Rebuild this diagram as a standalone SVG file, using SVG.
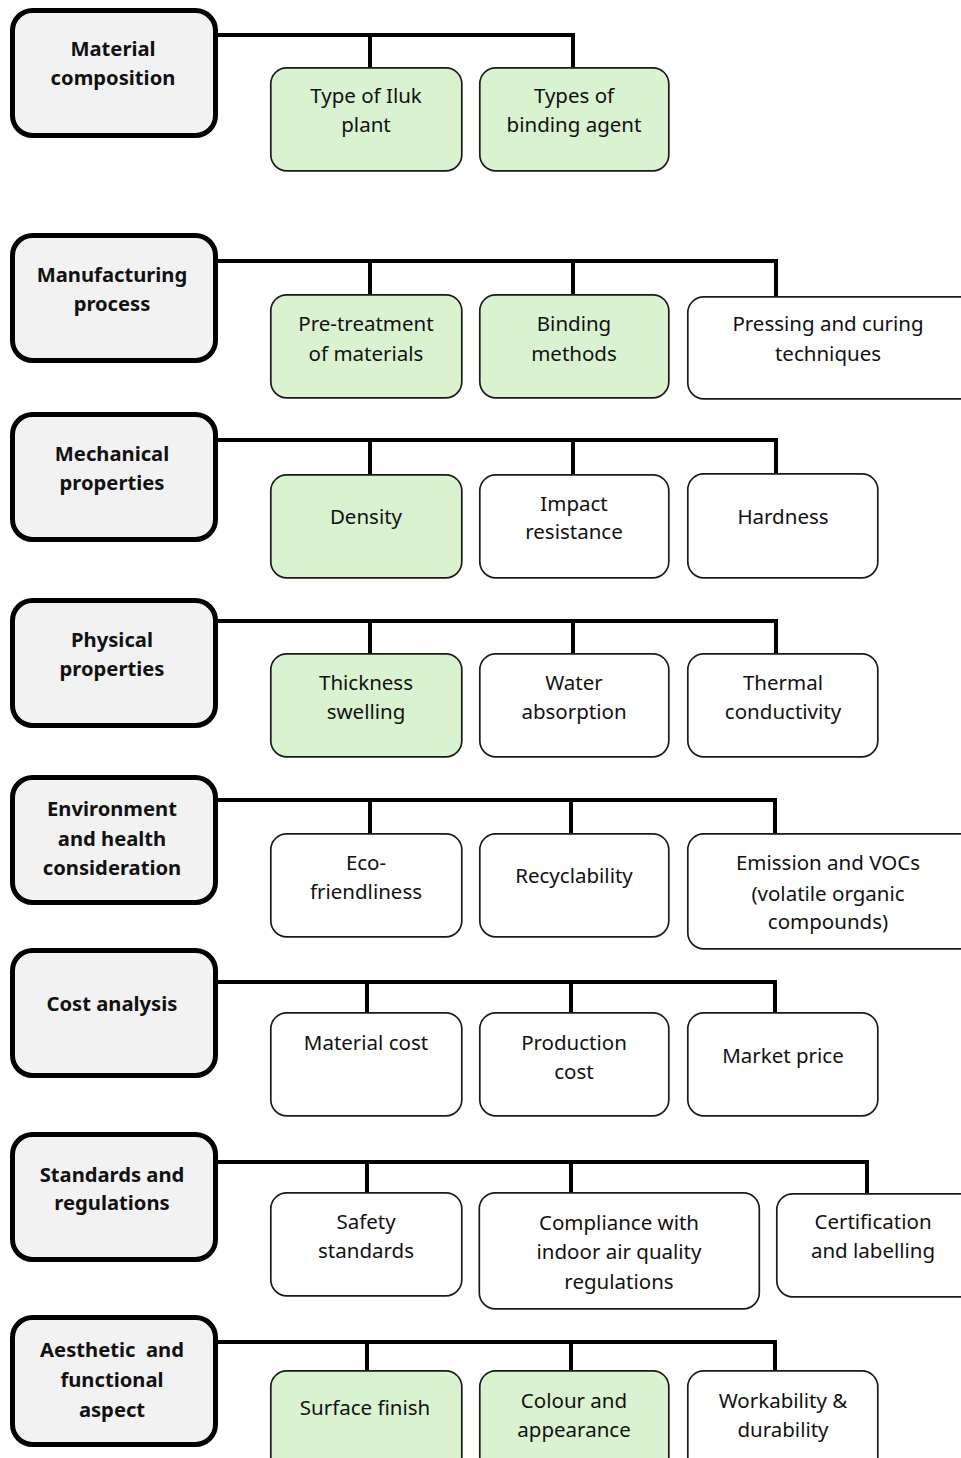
<svg xmlns="http://www.w3.org/2000/svg" width="961" height="1458" viewBox="0 0 961 1458">
  <style>
    .main rect { fill: #f2f2f2; stroke: #000; stroke-width: 5; }
    .main text { font-family: "Noto Sans", "Liberation Sans", sans-serif; font-weight: bold; font-size: 20.2px; fill: #111; text-anchor: middle; }
    .leaf rect { fill: #fff; stroke: #1a1a1a; stroke-width: 1.7; }
    .leaf.green rect { fill: #d9f2d0; }
    .leaf text { font-family: "Noto Sans", "Liberation Sans", sans-serif; font-size: 20.5px; fill: #111; text-anchor: middle; }
    .links path { fill: none; stroke: #000; stroke-width: 4; stroke-linejoin: miter; }
  </style>

  <!-- connectors: trunk from each category box, drops to each sub-item -->
  <g class="links">
    <path d="M217 35 H573 V67 M370 35 V67"/>
    <path d="M217 261 H776 V296 M370 261 V294 M573 261 V294"/>
    <path d="M217 440 H776 V473 M370 440 V474 M573 440 V474"/>
    <path d="M217 621 H776 V653 M370 621 V653 M573 621 V653"/>
    <path d="M217 800 H775 V833 M370 800 V833 M571 800 V833"/>
    <path d="M217 982 H775 V1012 M367 982 V1012 M571 982 V1012"/>
    <path d="M217 1162 H867 V1193 M367 1162 V1192 M571 1162 V1192"/>
    <path d="M217 1342 H775 V1370 M367 1342 V1370 M571 1342 V1370"/>
  </g>

  <!-- category boxes -->
  <g id="material-composition" class="main">
    <rect x="12.5" y="10.5" width="203" height="125" rx="20"/>
    <text x="113" y="56">Material</text>
    <text x="113" y="85">composition</text>
  </g>
  <g id="manufacturing-process" class="main">
    <rect x="12.5" y="235.5" width="203" height="125" rx="20"/>
    <text x="112" y="282">Manufacturing</text>
    <text x="112" y="311">process</text>
  </g>
  <g id="mechanical-properties" class="main">
    <rect x="12.5" y="414.5" width="203" height="125" rx="20"/>
    <text x="112" y="461">Mechanical</text>
    <text x="112" y="490">properties</text>
  </g>
  <g id="physical-properties" class="main">
    <rect x="12.5" y="600.5" width="203" height="125" rx="20"/>
    <text x="112" y="647">Physical</text>
    <text x="112" y="676">properties</text>
  </g>
  <g id="environment-health" class="main">
    <rect x="12.5" y="777.5" width="203" height="125" rx="20"/>
    <text x="112" y="816">Environment</text>
    <text x="112" y="846">and health</text>
    <text x="112" y="875">consideration</text>
  </g>
  <g id="cost-analysis" class="main">
    <rect x="12.5" y="950.5" width="203" height="125" rx="20"/>
    <text x="112" y="1011">Cost analysis</text>
  </g>
  <g id="standards-regulations" class="main">
    <rect x="12.5" y="1134.5" width="203" height="125" rx="20"/>
    <text x="112" y="1182">Standards and</text>
    <text x="112" y="1210">regulations</text>
  </g>
  <g id="aesthetic-functional" class="main">
    <rect x="12.5" y="1317.5" width="203" height="127" rx="20"/>
    <text x="112" y="1357" xml:space="preserve">Aesthetic  and</text>
    <text x="112" y="1387">functional</text>
    <text x="112" y="1417">aspect</text>
  </g>

  <!-- row 1 -->
  <g id="type-of-iluk" class="leaf green">
    <rect x="270.8" y="67.8" width="191" height="103" rx="16"/>
    <text x="366" y="103">Type of Iluk</text>
    <text x="366" y="132">plant</text>
  </g>
  <g id="binding-agent" class="leaf green">
    <rect x="479.8" y="67.8" width="189" height="103" rx="16"/>
    <text x="574" y="103">Types of</text>
    <text x="574" y="132">binding agent</text>
  </g>

  <!-- row 2 -->
  <g id="pre-treatment" class="leaf green">
    <rect x="270.8" y="294.8" width="191" height="103" rx="16"/>
    <text x="366" y="331">Pre-treatment</text>
    <text x="366" y="361">of materials</text>
  </g>
  <g id="binding-methods" class="leaf green">
    <rect x="479.8" y="294.8" width="189" height="103" rx="16"/>
    <text x="574" y="331">Binding</text>
    <text x="574" y="361">methods</text>
  </g>
  <g id="pressing-curing" class="leaf">
    <rect x="687.8" y="296.8" width="290" height="102" rx="16"/>
    <text x="828" y="331">Pressing and curing</text>
    <text x="828" y="361">techniques</text>
  </g>

  <!-- row 3 -->
  <g id="density" class="leaf green">
    <rect x="270.8" y="474.8" width="191" height="103" rx="16"/>
    <text x="366" y="524">Density</text>
  </g>
  <g id="impact-resistance" class="leaf">
    <rect x="479.8" y="474.8" width="189" height="103" rx="16"/>
    <text x="574" y="511">Impact</text>
    <text x="574" y="539">resistance</text>
  </g>
  <g id="hardness" class="leaf">
    <rect x="687.8" y="473.8" width="190" height="104" rx="16"/>
    <text x="783" y="524">Hardness</text>
  </g>

  <!-- row 4 -->
  <g id="thickness-swelling" class="leaf green">
    <rect x="270.8" y="653.8" width="191" height="103" rx="16"/>
    <text x="366" y="690">Thickness</text>
    <text x="366" y="719">swelling</text>
  </g>
  <g id="water-absorption" class="leaf">
    <rect x="479.8" y="653.8" width="189" height="103" rx="16"/>
    <text x="574" y="690">Water</text>
    <text x="574" y="719">absorption</text>
  </g>
  <g id="thermal-conductivity" class="leaf">
    <rect x="687.8" y="653.8" width="190" height="103" rx="16"/>
    <text x="783" y="690">Thermal</text>
    <text x="783" y="719">conductivity</text>
  </g>

  <!-- row 5 -->
  <g id="eco-friendliness" class="leaf">
    <rect x="270.8" y="833.8" width="191" height="103" rx="16"/>
    <text x="366" y="870">Eco-</text>
    <text x="366" y="899">friendliness</text>
  </g>
  <g id="recyclability" class="leaf">
    <rect x="479.8" y="833.8" width="189" height="103" rx="16"/>
    <text x="574" y="883">Recyclability</text>
  </g>
  <g id="emission-vocs" class="leaf">
    <rect x="687.8" y="833.8" width="290" height="115" rx="16"/>
    <text x="828" y="870">Emission and VOCs</text>
    <text x="828" y="901">(volatile organic</text>
    <text x="828" y="929">compounds)</text>
  </g>

  <!-- row 6 -->
  <g id="material-cost" class="leaf">
    <rect x="270.8" y="1012.8" width="191" height="103" rx="16"/>
    <text x="366" y="1050">Material cost</text>
  </g>
  <g id="production-cost" class="leaf">
    <rect x="479.8" y="1012.8" width="189" height="103" rx="16"/>
    <text x="574" y="1050">Production</text>
    <text x="574" y="1079">cost</text>
  </g>
  <g id="market-price" class="leaf">
    <rect x="687.8" y="1012.8" width="190" height="103" rx="16"/>
    <text x="783" y="1063">Market price</text>
  </g>

  <!-- row 7 -->
  <g id="safety-standards" class="leaf">
    <rect x="270.8" y="1192.8" width="191" height="103" rx="16"/>
    <text x="366" y="1229">Safety</text>
    <text x="366" y="1258">standards</text>
  </g>
  <g id="indoor-air-quality" class="leaf">
    <rect x="479.3" y="1192.8" width="280" height="116" rx="16"/>
    <text x="619" y="1230">Compliance with</text>
    <text x="619" y="1259">indoor air quality</text>
    <text x="619" y="1289">regulations</text>
  </g>
  <g id="certification-labelling" class="leaf">
    <rect x="776.8" y="1193.8" width="200" height="103" rx="16"/>
    <text x="873" y="1229">Certification</text>
    <text x="873" y="1258">and labelling</text>
  </g>

  <!-- row 8 -->
  <g id="surface-finish" class="leaf green">
    <rect x="270.8" y="1370.8" width="191" height="103" rx="16"/>
    <text x="365" y="1415">Surface finish</text>
  </g>
  <g id="colour-appearance" class="leaf green">
    <rect x="479.8" y="1370.8" width="189" height="103" rx="16"/>
    <text x="574" y="1408">Colour and</text>
    <text x="574" y="1437">appearance</text>
  </g>
  <g id="workability-durability" class="leaf">
    <rect x="687.8" y="1370.8" width="190" height="103" rx="16"/>
    <text x="783" y="1408">Workability &amp;</text>
    <text x="783" y="1437">durability</text>
  </g>
</svg>
